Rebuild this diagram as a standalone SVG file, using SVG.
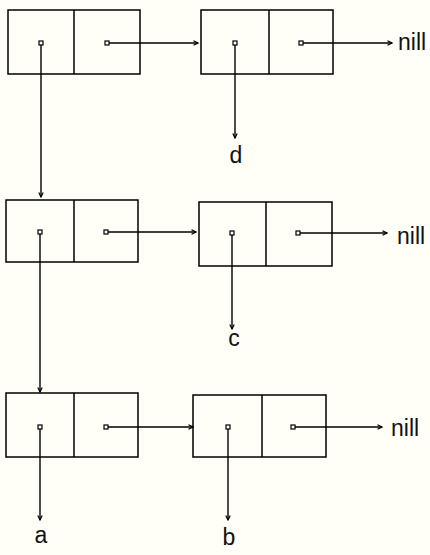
<svg xmlns="http://www.w3.org/2000/svg" width="430" height="555" viewBox="0 0 430 555">
  <style>
    .cell { fill: none; stroke: #000; stroke-width: 1.5; }
    .dot { fill: #fff; stroke: #000; stroke-width: 1.2; }
    .link { fill: none; stroke: #000; stroke-width: 1.4; marker-end: url(#tip); }
    .lbl { font-family: "Liberation Sans", Arial, sans-serif; font-size: 23px; fill: #111; }
  </style>
  <defs>
    <marker id="tip" viewBox="0 0 6 6" refX="5.5" refY="3" markerWidth="6" markerHeight="6" markerUnits="userSpaceOnUse" orient="auto">
      <path d="M1,0.8 L5.5,3 L1,5.2" fill="none" stroke="#000" stroke-width="1.2"/>
    </marker>
  </defs>
  <rect width="430" height="555" fill="#fffef7"/>

  <!-- connectors -->
  <g id="connectors">
    <!-- row 1 -->
    <line class="link" x1="107" y1="43" x2="198" y2="43"/>
    <line class="link" x1="301" y1="43" x2="392" y2="43"/>
    <line class="link" x1="235" y1="43" x2="235" y2="138"/>
    <line class="link" x1="41" y1="43" x2="41" y2="197"/>
    <!-- row 2 -->
    <line class="link" x1="106" y1="232" x2="196" y2="232"/>
    <line class="link" x1="298" y1="233" x2="387" y2="233"/>
    <line class="link" x1="232" y1="233" x2="232" y2="329"/>
    <line class="link" x1="40" y1="232" x2="40" y2="392"/>
    <!-- row 3 -->
    <line class="link" x1="106" y1="427" x2="193" y2="427"/>
    <line class="link" x1="293" y1="427" x2="382" y2="427"/>
    <line class="link" x1="40" y1="427" x2="40" y2="520"/>
    <line class="link" x1="228" y1="427" x2="228" y2="520"/>
  </g>

  <!-- list cells -->
  <g id="cell-r1a">
    <rect class="cell" x="8" y="10" width="132" height="64"/>
    <line class="cell" x1="74" y1="10" x2="74" y2="74"/>
    <rect class="dot" x="39" y="41" width="4" height="4"/>
    <rect class="dot" x="105" y="41" width="4" height="4"/>
  </g>
  <g id="cell-r1b">
    <rect class="cell" x="201" y="10" width="132" height="64"/>
    <line class="cell" x1="269" y1="10" x2="269" y2="74"/>
    <rect class="dot" x="233" y="41" width="4" height="4"/>
    <rect class="dot" x="299" y="41" width="4" height="4"/>
  </g>
  <g id="cell-r2a">
    <rect class="cell" x="6" y="200" width="132" height="62"/>
    <line class="cell" x1="74" y1="200" x2="74" y2="262"/>
    <rect class="dot" x="38" y="230" width="4" height="4"/>
    <rect class="dot" x="104" y="230" width="4" height="4"/>
  </g>
  <g id="cell-r2b">
    <rect class="cell" x="199" y="202" width="133" height="64"/>
    <line class="cell" x1="266" y1="202" x2="266" y2="266"/>
    <rect class="dot" x="230" y="231" width="4" height="4"/>
    <rect class="dot" x="296" y="231" width="4" height="4"/>
  </g>
  <g id="cell-r3a">
    <rect class="cell" x="6" y="393" width="132" height="64"/>
    <line class="cell" x1="74" y1="393" x2="74" y2="457"/>
    <rect class="dot" x="38" y="425" width="4" height="4"/>
    <rect class="dot" x="104" y="425" width="4" height="4"/>
  </g>
  <g id="cell-r3b">
    <rect class="cell" x="193" y="395" width="133" height="62"/>
    <line class="cell" x1="262" y1="395" x2="262" y2="457"/>
    <rect class="dot" x="226" y="425" width="4" height="4"/>
    <rect class="dot" x="291" y="425" width="4" height="4"/>
  </g>

  <!-- labels -->
  <g id="labels">
    <text class="lbl" x="398" y="50">nill</text>
    <text class="lbl" x="397" y="244">nill</text>
    <text class="lbl" x="391" y="436">nill</text>
    <text class="lbl" x="236" y="163" text-anchor="middle">d</text>
    <text class="lbl" x="234" y="346" text-anchor="middle">c</text>
    <text class="lbl" x="41" y="543" text-anchor="middle">a</text>
    <text class="lbl" x="229" y="545" text-anchor="middle">b</text>
  </g>
</svg>
